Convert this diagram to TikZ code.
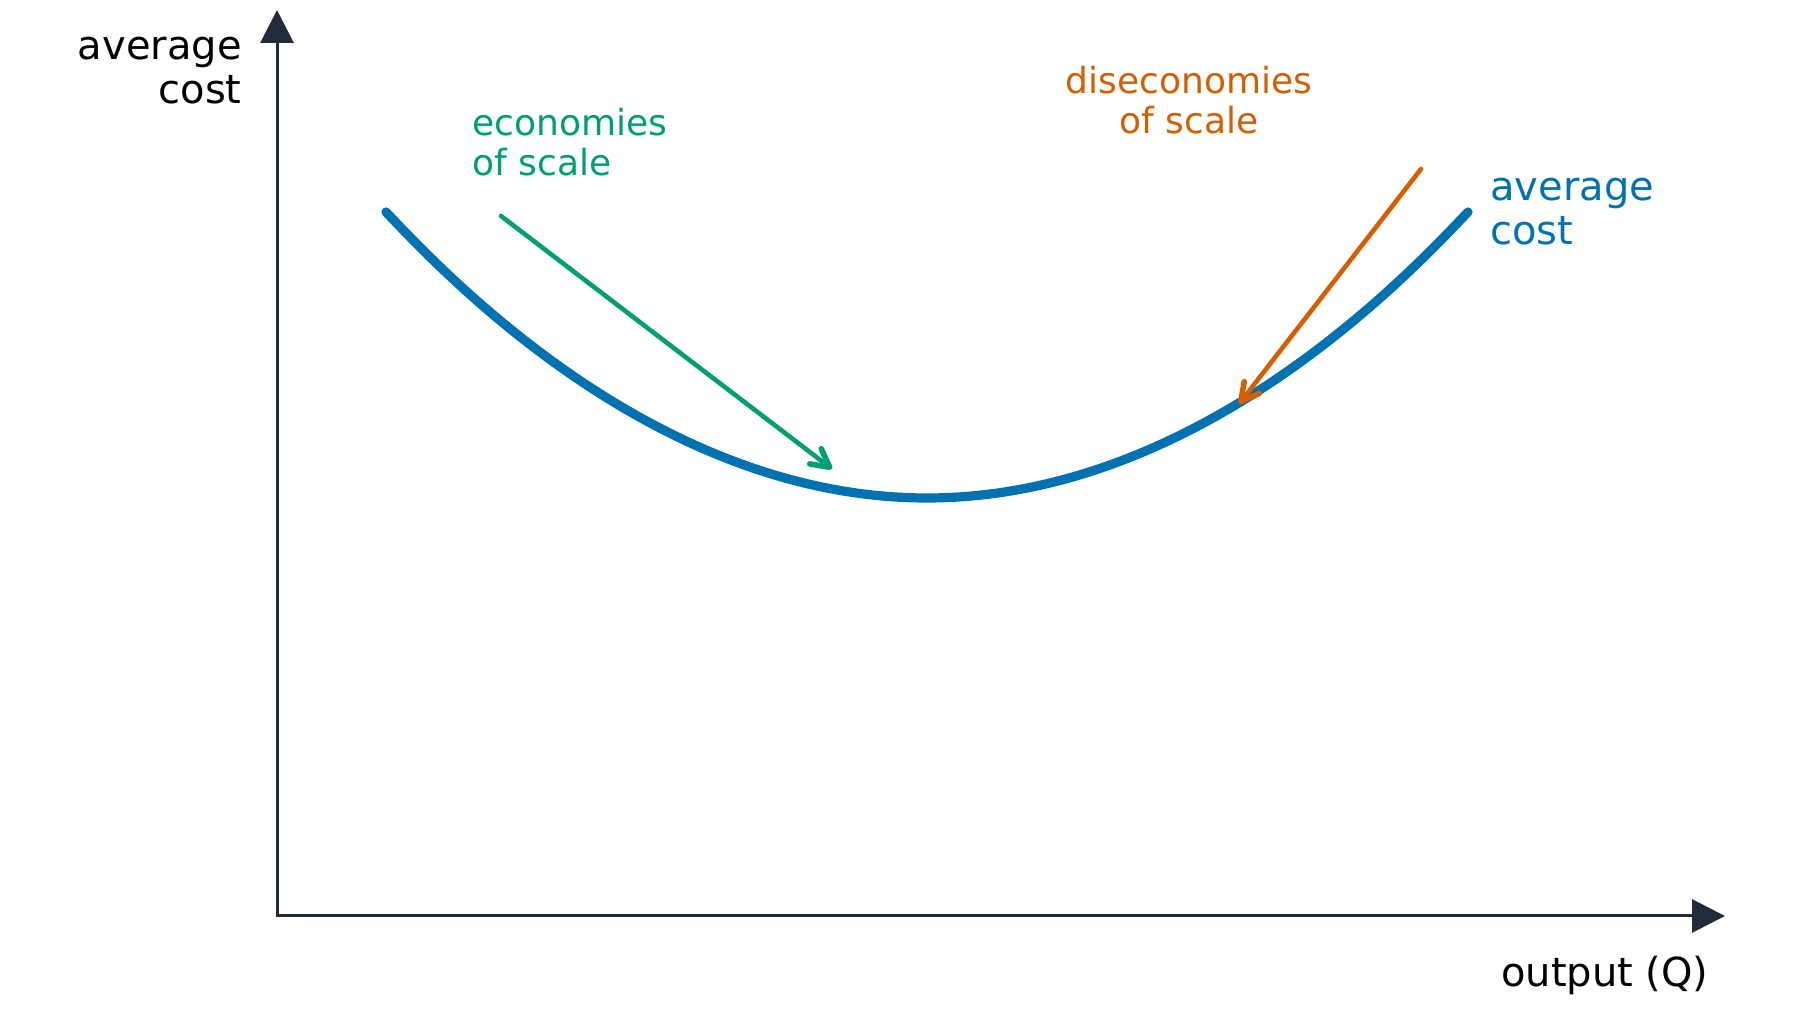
\documentclass[tikz,border=0pt]{standalone}
\usepackage{fontspec}
\setmainfont{DejaVu Sans}
\usetikzlibrary{arrows.meta,positioning}
\definecolor{axiscolor}{HTML}{222B3A}
\definecolor{costblue}{HTML}{0072B2}
\definecolor{ecogreen}{HTML}{009E73}
\definecolor{diseorange}{HTML}{D55E00}

\begin{document}
\begin{tikzpicture}[x=0.5pt,y=0.5pt,line cap=round,inner sep=0pt]
 \tikzstyle{axis}=[draw=axiscolor,line width=1.5pt,line cap=butt,{Triangle[length=16.5pt,width=16.5pt]}-{Triangle[length=16.5pt,width=16.5pt]}]
 \tikzstyle{costcurve}=[draw=costblue,line width=4.6pt]
 \tikzstyle{pointer}=[line width=2.3pt,-{Straight Barb[round,length=9pt,width=9.5pt,line width=2.8pt]}]
 \tikzstyle{biglabel}=[font=\fontsize{20pt}{22.4pt}\selectfont]
 \tikzstyle{smalllabel}=[font=\fontsize{18pt}{20.2pt}\selectfont]

   \useasboundingbox (0,0) rectangle (1800,1010);

   % axes
   \coordinate (origin) at (277,94);
   \coordinate (ytop) at (277,1000);
   \coordinate (xend) at (1725,94);
   \draw[axis] (ytop) -- (origin) -- (xend);
   \node[biglabel,align=right,anchor=base east] (ylabel) at (242,906) {average\\cost};
   \node[biglabel,anchor=base east] (xlabel) at (1709,23) {output (Q)};

   % average cost curve
   \coordinate (acstart) at (386,798);
   \coordinate (acbottom) at (927,512);
   \coordinate (acend) at (1468,798);
   \draw[costcurve] (acstart) parabola bend (acbottom) (acend);
   \node[biglabel,text=costblue,align=left,anchor=base west] (aclabel) at (1490,765) {average\\cost};

   % economies of scale
   \coordinate (ecostart) at (501,794);
   \coordinate (ecotip) at (832,541);
   \node[smalllabel,text=ecogreen,align=left,anchor=base west] (ecolabel) at (472,834) {economies\\of scale};
   \draw[pointer,ecogreen] (ecostart) -- (ecotip);

   % diseconomies of scale
   \coordinate (disestart) at (1421,841);
   \coordinate (disetip) at (1239,606);
   \node[smalllabel,text=diseorange,align=center,anchor=base] (diselabel) at (1189,876) {diseconomies\\of scale};
   \draw[pointer,diseorange] (disestart) -- (disetip);

\end{tikzpicture}
\end{document}
